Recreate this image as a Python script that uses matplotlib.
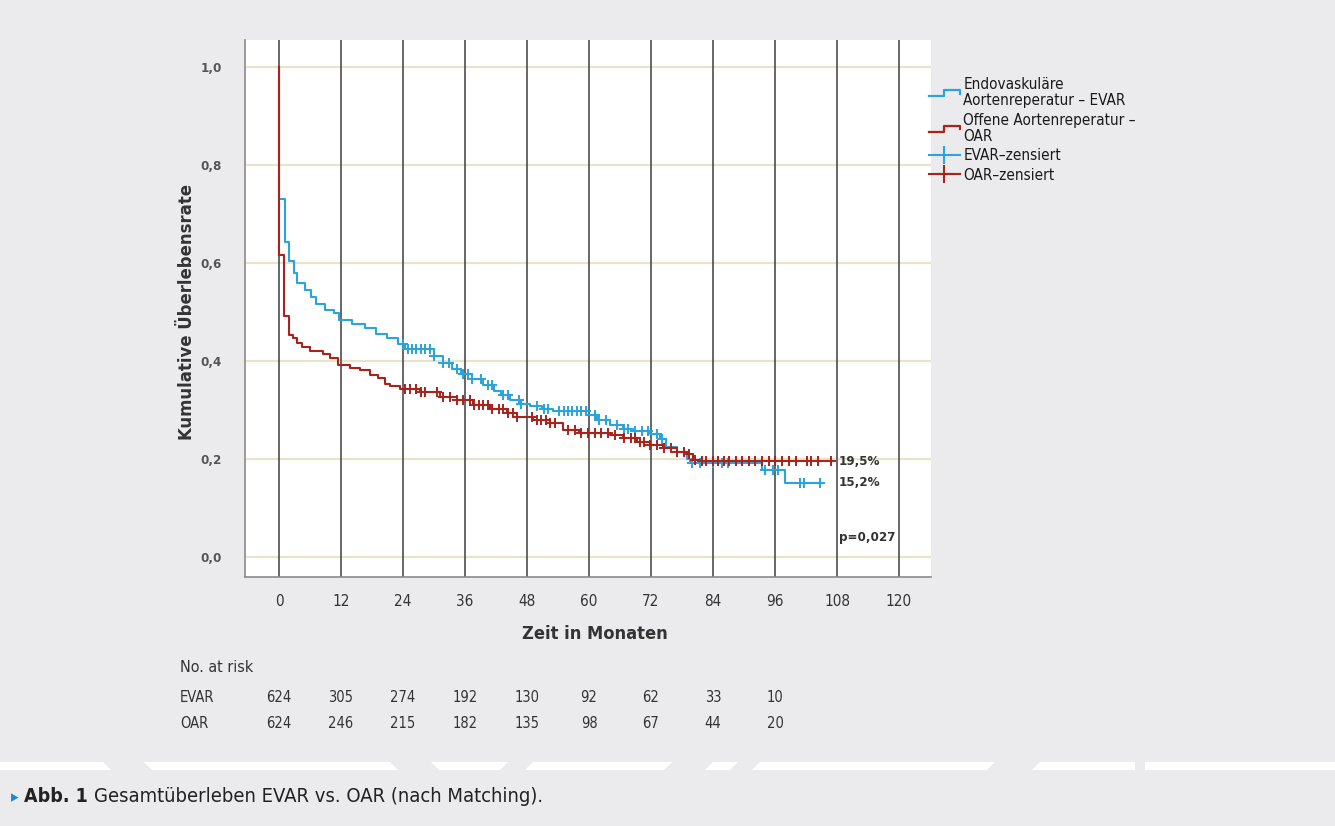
import numpy as np
import matplotlib
matplotlib.use("Agg")
import matplotlib.pyplot as plt
from matplotlib.lines import Line2D
from matplotlib.legend_handler import HandlerBase
from matplotlib.patches import Rectangle, Polygon
import matplotlib.transforms as mtransforms

plt.rcParams['font.family'] = ['DejaVu Sans']
plt.rcParams['font.stretch'] = 'condensed'

# ---------------- data ----------------
evar_t = [0, 0, 1.1, 1.9, 3.0, 3.5, 5.0, 6.2, 7.2, 8.9, 10.6, 11.6, 14.1, 16.7, 18.8, 20.9,
          23.0, 24.3, 30.0, 31.8, 33.5, 35.2, 37.3, 39.5, 41.7, 43.0, 44.8, 46.5, 48.5,
          51.0, 53.0, 59.5, 61.5, 64.0, 66.5, 68.5, 71.8, 73.7, 75.0, 77.0, 79.0, 79.6,
          93.4, 97.9, 105.0]
evar_s = [1.0, 0.73, 0.643, 0.604, 0.58, 0.559, 0.545, 0.53, 0.516, 0.505, 0.497, 0.484,
          0.475, 0.468, 0.455, 0.447, 0.435, 0.424, 0.41, 0.396, 0.384, 0.373, 0.363,
          0.352, 0.338, 0.33, 0.32, 0.313, 0.308, 0.303, 0.297, 0.29, 0.28, 0.27, 0.262,
          0.257, 0.25, 0.24, 0.225, 0.215, 0.2, 0.192, 0.178, 0.152, 0.152]

oar_t = [0, 0, 1.0, 2.0, 2.8, 3.4, 4.4, 6.0, 8.6, 9.9, 11.5, 13.7, 15.7, 17.6, 19.2, 20.5,
         21.5, 23.4, 27.3, 31.2, 34.4, 37.6, 40.8, 44.1, 46.0, 49.2, 52.4, 55.0, 58.0,
         64.0, 66.6, 69.2, 71.8, 74.4, 77.0, 78.9, 80.2, 81.5, 107.0]
oar_s = [1.0, 0.617, 0.492, 0.453, 0.446, 0.437, 0.429, 0.42, 0.415, 0.407, 0.392, 0.385,
         0.381, 0.371, 0.365, 0.354, 0.348, 0.343, 0.337, 0.327, 0.32, 0.31, 0.303, 0.293,
         0.286, 0.28, 0.273, 0.259, 0.254, 0.249, 0.242, 0.235, 0.229, 0.222, 0.215, 0.21,
         0.198, 0.195, 0.195]

evar_cens = [24.0, 24.9, 25.7, 26.6, 27.4, 28.3, 29.2, 30.0, 31.8, 33.0, 34.4, 35.6, 36.5,
             37.4, 39.1, 40.4, 41.3, 43.4, 44.3, 46.4, 46.9, 49.9, 51.2, 52.1, 54.2, 55.1,
             56.0, 56.8, 57.7, 58.5, 59.4, 61.1, 62.0, 63.3, 65.5, 66.8, 67.6, 68.9, 70.2,
             71.5, 73.2, 74.1, 79.9, 81.4, 84.0, 85.8, 87.0, 94.0, 95.7, 96.6, 100.9,
             101.7, 104.8]
oar_cens = [24.4, 25.3, 26.6, 27.4, 28.3, 30.5, 31.8, 33.1, 34.4, 35.7, 36.9, 37.8, 38.7,
            39.5, 40.4, 41.3, 42.6, 43.4, 44.3, 45.2, 46.0, 49.0, 49.9, 50.8, 51.6, 52.5,
            53.4, 55.9, 57.3, 58.5, 59.9, 61.1, 62.4, 63.7, 65.0, 66.8, 68.1, 68.9, 69.8,
            70.6, 71.9, 73.2, 74.5, 75.8, 77.1, 78.4, 79.3, 80.6, 81.9, 82.7, 84.0, 84.9,
            86.2, 87.1, 88.4, 89.7, 91.0, 92.2, 93.5, 94.8, 96.1, 97.4, 98.7, 100.0, 102.2,
            103.0, 104.3, 106.9]

x_ticks = [0, 12, 24, 36, 48, 60, 72, 84, 96, 108, 120]
y_ticks = [0.0, 0.2, 0.4, 0.6, 0.8, 1.0]
y_ticklabels = ["0,0", "0,2", "0,4", "0,6", "0,8", "1,0"]

risk_times = [0, 12, 24, 36, 48, 60, 72, 84, 96]
risk_evar = [624, 305, 274, 192, 130, 92, 62, 33, 10]
risk_oar = [624, 246, 215, 182, 135, 98, 67, 44, 20]

final_labels = ["19,5%", "15,2%"]
p_text = "p=0,027"

legend_labels = ["Endovaskuläre\nAortenreperatur – EVAR", "Offene Aortenreperatur –\nOAR",
                 "EVAR–zensiert", "OAR–zensiert"]

BLUE = '#2ba3dc'
RED = '#a9221c'
BG = '#ebebed'
TXT = '#333333'

W, H = 1335, 826
fig = plt.figure(figsize=(W / 100, H / 100), dpi=100)
fig.patch.set_facecolor(BG)

# decorative white strip with gray slanted pieces near bottom
fig.patches.append(Rectangle((0, 1 - 770 / H), 1, 8 / H, transform=fig.transFigure,
                             facecolor='white', edgecolor='none', zorder=0))
for x0, x1, slant in [(103, 144, 8), (390, 431, 8), (508, 533, -8), (672, 713, -8),
                      (738, 760, -8), (995, 1040, -8), (1135, 1145, 0)]:
    fig.patches.append(Polygon([(x0 / W, 1 - 762 / H), (x1 / W, 1 - 762 / H),
                                ((x1 + slant) / W, 1 - 770 / H), ((x0 + slant) / W, 1 - 770 / H)],
                               closed=True, transform=fig.transFigure, facecolor=BG,
                               edgecolor='none', zorder=0))

ax = fig.add_axes([245 / W, 1 - 577 / H, (931 - 245) / W, (577 - 40) / H])
ax.set_facecolor('white')
ax.set_xlim(-6.58, 126.2)
ax.set_ylim(-0.0408, 1.055)

for yv in y_ticks:
    ax.axhline(yv, color='#e8e4cc', lw=1.6, zorder=1)
for xv in x_ticks:
    ax.axvline(xv, color='#5a5a5a', lw=1.3, zorder=1)

for s in ['top', 'right']:
    ax.spines[s].set_visible(False)
for s in ['left', 'bottom']:
    ax.spines[s].set_color('#8a8a8a')
    ax.spines[s].set_linewidth(1.2)

ax.set_xticks(x_ticks)
ax.set_xticklabels([str(v) for v in x_ticks])
ax.set_yticks(y_ticks)
ax.set_yticklabels(y_ticklabels)
ax.tick_params(axis='x', length=0, pad=12, labelsize=11, labelcolor=TXT)
ax.tick_params(axis='y', length=0, pad=16.5, labelsize=9.5, labelcolor='#555555')
for lab in ax.get_yticklabels():
    lab.set_fontweight('bold')

ax.plot(evar_t, evar_s, drawstyle='steps-post', color=BLUE, lw=1.5, zorder=3)
ax.plot(oar_t, oar_s, drawstyle='steps-post', color=RED, lw=1.5, zorder=4)


def surv_at(tt, ss, x):
    idx = np.searchsorted(np.array(tt), x, side='right') - 1
    return np.array(ss)[idx]


ax.plot(evar_cens, surv_at(evar_t, evar_s, evar_cens), linestyle='none', marker='+',
        ms=6.5, mew=1.4, color=BLUE, zorder=3)
ax.plot(oar_cens, surv_at(oar_t, oar_s, oar_cens), linestyle='none', marker='+',
        ms=6.5, mew=1.4, color=RED, zorder=4)

ax.text(108.3, oar_s[-1], final_labels[0], fontsize=9.5, color=TXT, va='center',
        ha='left', fontweight='bold')
ax.text(108.3, evar_s[-1], final_labels[1], fontsize=9.5, color=TXT, va='center',
        ha='left', fontweight='bold')
ax.text(108.3, 0.04, p_text, fontsize=9.5, color=TXT, va='center', ha='left',
        fontweight='bold')

ylab = fig.text(187 / W, 1 - 312 / H, "Kumulative Überlebensrate", rotation=90, fontsize=13,
                fontweight='bold', color=TXT, ha='center', va='center')
xlab = fig.text(595 / W, 1 - 634 / H, "Zeit in Monaten", fontsize=13.5, fontweight='bold',
                color=TXT, ha='center', va='center')


# legend with step-shaped handles
class StepHandler(HandlerBase):
    def create_artists(self, legend, orig_handle, xdescent, ydescent, width, height,
                       fontsize, trans):
        x0 = -xdescent
        y0 = -ydescent
        xs = [x0, x0 + width * 0.5, x0 + width * 0.5, x0 + width, x0 + width]
        ys = [y0 + height * 0.2, y0 + height * 0.2, y0 + height * 0.75, y0 + height * 0.75,
              y0 + height * 0.45]
        l = Line2D(xs, ys, color=orig_handle.get_color(), lw=1.6, transform=trans)
        return [l]


h_evar = Line2D([], [], color=BLUE)
h_oar = Line2D([], [], color=RED)
h_ec = Line2D([], [], color=BLUE, marker='+', ms=13, mew=1.5, lw=1.5)
h_oc = Line2D([], [], color=RED, marker='+', ms=13, mew=1.5, lw=1.5)
leg = fig.legend([h_evar, h_oar, h_ec, h_oc], legend_labels,
                 handler_map={h_evar: StepHandler(), h_oar: StepHandler()},
                 loc='upper left', bbox_to_anchor=(929 / W, 1 - 77 / H), frameon=False,
                 fontsize=11, handlelength=2.0, handletextpad=0.25, labelspacing=0.3,
                 borderpad=0, borderaxespad=0)
for t in leg.get_texts():
    t.set_color('#1a1a1a')
    t.set_linespacing(1.08)

# number at risk table
trans = mtransforms.blended_transform_factory(ax.transData, fig.transFigure)
fig.text(180 / W, 1 - 668 / H, "No. at risk", fontsize=11.5, color=TXT, va='center')
fig.text(180 / W, 1 - 697 / H, "EVAR", fontsize=10.5, color=TXT, va='center')
fig.text(180 / W, 1 - 723 / H, "OAR", fontsize=10.5, color=TXT, va='center')
for tval, ne, no in zip(risk_times, risk_evar, risk_oar):
    ax.text(tval, 1 - 697 / H, str(ne), transform=trans, fontsize=10.5, color=TXT,
            ha='center', va='center')
    ax.text(tval, 1 - 723 / H, str(no), transform=trans, fontsize=10.5, color=TXT,
            ha='center', va='center')

# caption
fig.text(11 / W, 1 - 797 / H, "▸", fontsize=12, color='#1b8ad0', va='center')
abb = fig.text(24 / W, 1 - 797 / H, "Abb. 1", fontsize=14, color='#222222', va='center',
               fontweight='bold')
fig.canvas.draw()
r = fig.canvas.get_renderer()
bb = abb.get_window_extent(r)
fig.text((bb.x1 + 6) / W, 1 - 797 / H, "Gesamtüberleben EVAR vs. OAR (nach Matching).",
         fontsize=14.5, color='#222222', va='center')


def fit(t, target, use_h=False):
    b = t.get_window_extent(r)
    cur = b.height if use_h else b.width
    t.set_fontsize(t.get_fontsize() * target / cur)


fit(ylab, 255, use_h=True)
fit(xlab, 146)

fig.savefig("out.png", dpi=100, facecolor=BG)
